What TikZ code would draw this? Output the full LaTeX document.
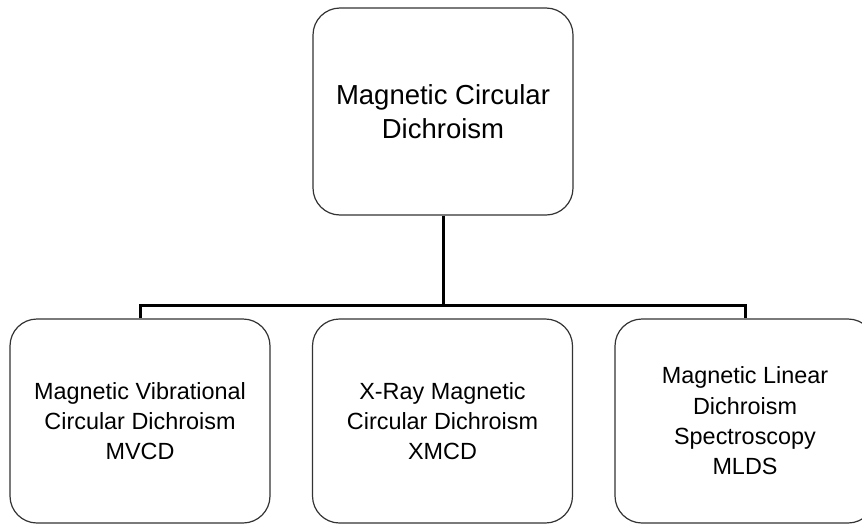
\documentclass[tikz,border=0pt]{standalone}
\usepackage{fontspec}
\setmainfont{Liberation Sans}
\begin{document}
\begin{tikzpicture}[x=1pt,y=-1pt,
  box/.style={draw=black!80,line width=1.2pt,rounded corners=27pt,minimum width=260pt,inner sep=0pt,align=center},
  topbox/.style={box,minimum height=207pt,font=\fontsize{27.5}{34}\selectfont},
  subbox/.style={box,minimum height=204pt,font=\fontsize{23.4}{30.3}\selectfont},
  conn/.style={draw=black,line width=3pt}]
\useasboundingbox (0,0) rectangle (862,525);
\clip (0,0) rectangle (862,525);
\node[topbox] (mcd) at (443,111.5) {Magnetic Circular\\Dichroism};
\node[subbox] (mvcd) at (140,421) {Magnetic Vibrational\\Circular Dichroism\\MVCD};
\node[subbox] (xmcd) at (442.5,421) {X-Ray Magnetic\\Circular Dichroism\\XMCD};
\node[subbox] (mlds) at (745,421) {Magnetic Linear\\Dichroism\\Spectroscopy\\MLDS};
\coordinate (bus) at (0,305);
\draw[conn] (mcd.south) -- (mcd.south |- bus);
\draw[conn] (mvcd.north) -- (mvcd.north |- bus) -- (mlds.north |- bus) -- (mlds.north);
\end{tikzpicture}
\end{document}
